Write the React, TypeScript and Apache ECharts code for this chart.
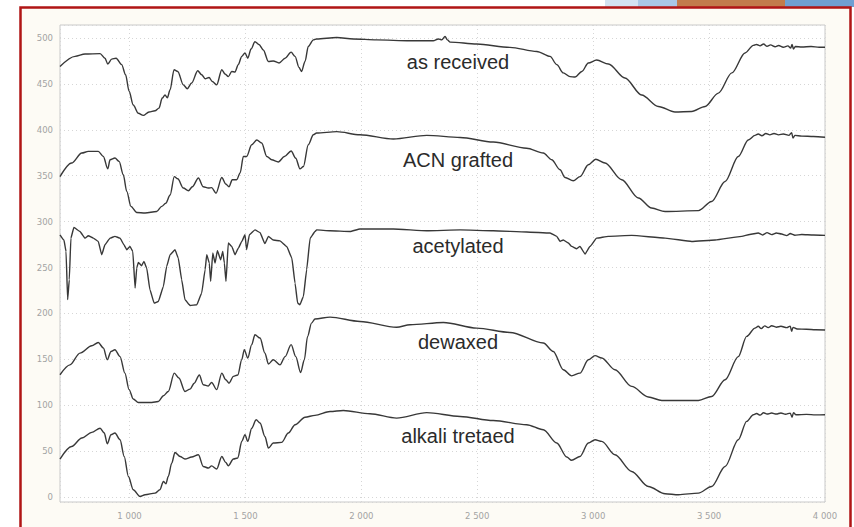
import React, { useEffect, useRef } from "react";
import * as echarts from "echarts";

// FTIR spectra: [wavenumber, value]
const asReceived: [number, number][] = [
  [700, 469], [765, 480], [808, 482.6], [873, 483], [894, 478], [906, 471.7], [923, 477], [942, 478],
  [966, 471], [983, 460], [998, 442], [1016, 427], [1038, 418], [1059, 415.7], [1084, 419.4], [1110, 420.8],
  [1127, 423.7], [1141, 434.6], [1153, 438], [1163, 435], [1175, 443.7], [1192, 465.5], [1208, 463.6],
  [1232, 449], [1249, 444.8], [1268, 451], [1294, 464.4], [1311, 460], [1326, 455.7], [1343, 457],
  [1357, 452.7], [1376, 449], [1398, 465.5], [1412, 460.8], [1426, 458], [1441, 463.6], [1455, 463],
  [1469, 471], [1484, 480], [1498, 483.7], [1510, 478], [1524, 488], [1541, 496], [1558, 493], [1577, 487],
  [1599, 474.5], [1620, 475], [1645, 472.8], [1671, 478], [1697, 484.6], [1714, 480], [1731, 468],
  [1742, 463.6], [1757, 474.5], [1771, 490.8], [1793, 498], [1807, 499], [1894, 500.6], [1965, 499],
  [2066, 498], [2210, 497], [2310, 497], [2332, 499], [2347, 498], [2361, 501.7], [2371, 498], [2383, 495.6],
  [2498, 493.5], [2641, 489.8], [2757, 485.4], [2814, 480], [2843, 471], [2871, 462], [2900, 458],
  [2922, 457.5], [2951, 463.6], [2979, 472.8], [3015, 476], [3066, 471.7], [3137, 456.4], [3209, 438],
  [3281, 425.5], [3353, 419.4], [3425, 420], [3483, 425.5], [3540, 440], [3598, 462], [3655, 483.7],
  [3691, 492], [3705, 493], [3720, 491.5], [3735, 493.5], [3750, 491], [3765, 492.5], [3785, 490.5],
  [3800, 491.8], [3820, 490], [3840, 491.5], [3852, 489], [3858, 493], [3864, 488], [3872, 490.8],
  [3900, 490.2], [3940, 490.8], [3975, 490], [4000, 490],
];

const acnGrafted: [number, number][] = [
  [700, 349], [750, 363.8], [794, 374.7], [822, 376.5], [865, 376.5], [887, 371], [906, 357.6], [916, 367.4],
  [937, 369.3], [955, 365.6], [973, 351], [988, 333], [1006, 316.6], [1031, 310], [1067, 309.4], [1117, 311],
  [1139, 316.6], [1156, 320], [1175, 329], [1193, 349], [1208, 346.7], [1232, 336.6], [1254, 333.7],
  [1271, 338], [1297, 347.5], [1318, 338], [1340, 336.6], [1354, 337], [1373, 331], [1398, 348], [1415, 341],
  [1429, 338], [1443, 345.6], [1462, 345.6], [1477, 353], [1491, 371], [1505, 371], [1527, 383.8],
  [1549, 389], [1570, 385.6], [1592, 371], [1613, 367.4], [1642, 365], [1668, 371], [1697, 377], [1717, 369],
  [1735, 357.6], [1750, 360], [1771, 383.8], [1793, 394.7], [1807, 396.5], [1894, 398], [1994, 394.7],
  [2138, 390], [2282, 394], [2426, 391.7], [2569, 386.7], [2713, 380], [2785, 374.7], [2821, 367.4],
  [2857, 356.5], [2879, 348], [2914, 344.5], [2943, 349], [2979, 362], [3011, 368], [3051, 363.8],
  [3123, 345.6], [3195, 325.7], [3252, 314.8], [3310, 311], [3454, 312], [3511, 322], [3569, 343.8],
  [3626, 371], [3669, 389], [3698, 394], [3712, 395.5], [3728, 393.5], [3745, 396], [3762, 394.5],
  [3780, 396], [3800, 394.5], [3820, 395.5], [3845, 394], [3856, 397], [3862, 391], [3870, 394],
  [3900, 393.2], [3950, 392.8], [4000, 392],
];

const acetylated: [number, number][] = [
  [700, 285.7], [717, 280], [726, 267.5], [733, 215], [740, 236.7], [747, 282], [760, 293.7], [786, 289.3],
  [808, 282], [822, 284.6], [844, 282], [865, 278.4], [880, 264], [894, 274.8], [916, 282], [937, 284],
  [959, 282], [976, 274.8], [988, 269.4], [1002, 273], [1014, 267.5], [1024, 227.7], [1031, 249.5],
  [1038, 255.6], [1052, 252], [1062, 256.7], [1074, 249.5], [1088, 225.8], [1106, 211.3], [1124, 213],
  [1146, 229.4], [1160, 251.2], [1175, 264], [1196, 269.4], [1210, 260.4], [1225, 236.7], [1239, 215],
  [1261, 208.7], [1290, 209.5], [1311, 222], [1326, 247.6], [1333, 264], [1344, 255], [1350, 235],
  [1359, 265.8], [1369, 255], [1379, 268.3], [1393, 258.5], [1402, 267.5], [1409, 255], [1416, 235],
  [1426, 276.7], [1441, 273], [1455, 264], [1469, 271], [1484, 278.4], [1498, 285.7], [1505, 269.4],
  [1517, 285.7], [1541, 291], [1563, 288], [1584, 276], [1599, 284], [1620, 280], [1649, 279], [1678, 273],
  [1700, 260.4], [1714, 233], [1725, 211.3], [1735, 209.5], [1750, 218.5], [1764, 247.6], [1779, 282],
  [1800, 289.3], [1807, 291], [1865, 290], [1951, 289.3], [1994, 292], [2138, 292], [2282, 290], [2426, 291],
  [2569, 290], [2713, 288.7], [2814, 287.6], [2843, 284], [2857, 278.4], [2871, 280], [2893, 276.7],
  [2907, 273], [2929, 270.5], [2943, 273], [2965, 264.7], [2986, 273], [3015, 282], [3065, 284], [3166, 285],
  [3310, 282], [3425, 278.4], [3526, 280], [3641, 284], [3675, 286], [3712, 287.6], [3730, 285.5],
  [3750, 288], [3770, 285.8], [3790, 287.6], [3813, 286.5], [3835, 284.8], [3850, 287], [3870, 285.2],
  [3900, 286], [3950, 285.4], [4000, 285],
];

const dewaxed: [number, number][] = [
  [700, 133.2], [743, 144], [786, 156.8], [837, 164.8], [865, 168.4], [887, 162.3], [904, 149.6], [920, 158.6],
  [937, 160.5], [959, 153], [980, 135], [998, 117], [1016, 106.8], [1038, 103], [1096, 103], [1124, 104],
  [1146, 110.3], [1167, 115], [1193, 135], [1213, 129.6], [1239, 115], [1261, 117.6], [1279, 124],
  [1301, 133], [1318, 122.3], [1340, 121], [1354, 124.8], [1376, 117], [1398, 135], [1415, 127.8],
  [1429, 124], [1448, 131.4], [1467, 133], [1484, 149.6], [1495, 160.5], [1510, 151.4], [1527, 166],
  [1541, 176.8], [1563, 173.2], [1584, 156.8], [1599, 145], [1620, 149.6], [1649, 144], [1671, 153],
  [1697, 166], [1717, 153], [1738, 135.7], [1754, 149.6], [1768, 175], [1785, 189.5], [1800, 194],
  [1865, 196], [1994, 191.3], [2152, 185], [2210, 187.7], [2354, 190.2], [2498, 184], [2641, 179.3],
  [2785, 167.8], [2828, 158.6], [2871, 138.7], [2907, 132], [2943, 135], [2979, 149.6], [3008, 154],
  [3037, 151.4], [3094, 138.7], [3166, 120.5], [3238, 109], [3296, 105.2], [3454, 105.2], [3511, 109.6],
  [3569, 127.8], [3626, 153], [3662, 175], [3698, 184], [3712, 186], [3725, 183.5], [3740, 186.5],
  [3755, 184.5], [3770, 186.6], [3790, 185], [3810, 186], [3835, 184.5], [3850, 186.2], [3856, 180.5],
  [3862, 184.8], [3880, 183], [3920, 182.8], [3960, 182.2], [4000, 182],
];

const alkaliTreated: [number, number][] = [
  [700, 41.4], [750, 55], [794, 64.3], [837, 70.4], [873, 75], [891, 69.7], [904, 58], [920, 67.9],
  [937, 69.7], [959, 62.4], [977, 44.2], [995, 22.4], [1016, 8], [1045, 0.7], [1067, 2.5], [1110, 4.3],
  [1131, 8], [1146, 17], [1157, 14.5], [1167, 22.4], [1182, 37], [1196, 48.6], [1218, 44.2], [1239, 41.4],
  [1268, 43.6], [1297, 46], [1318, 33.3], [1340, 31.6], [1354, 34], [1376, 30.5], [1398, 44.2],
  [1415, 37.7], [1426, 34], [1448, 41.4], [1467, 42.5], [1484, 60.6], [1498, 67.9], [1510, 60.6],
  [1527, 75], [1546, 84.2], [1563, 80.6], [1584, 66], [1599, 53.4], [1620, 58.8], [1656, 59.5],
  [1685, 69.7], [1714, 78.8], [1757, 87], [1800, 89], [1865, 93.2], [1922, 94.3], [2037, 90.7], [2152, 86],
  [2282, 92], [2426, 87.8], [2569, 83.4], [2713, 78.8], [2785, 73.3], [2843, 58.8], [2886, 43.6],
  [2907, 40], [2943, 44.2], [2979, 58.8], [3008, 62.4], [3037, 60.6], [3094, 46], [3166, 27.9],
  [3238, 11.5], [3310, 3.6], [3368, 2.5], [3454, 4.3], [3511, 11.5], [3569, 33.3], [3626, 62.4],
  [3662, 82.4], [3691, 89.6], [3705, 91], [3720, 89.2], [3735, 91.8], [3750, 90.4], [3770, 91.5],
  [3790, 90.4], [3810, 91.6], [3830, 90.2], [3850, 91.4], [3858, 87], [3864, 92], [3875, 89.6],
  [3920, 90], [3960, 89.5], [4000, 89.6],
];

const seriesData = [asReceived, acnGrafted, acetylated, dewaxed, alkaliTreated];
const curveNames = ["as received", "ACN grafted", "acetylated", "dewaxed", "alkali tretaed"];

const W = 854;
const H = 527;
const labelBaselines = [72, 170, 256, 352, 446];
const smoothness = [0.3, 0.3, 0.12, 0.3, 0.3];

const fmtX = (v: number) => {
  const s = String(Math.round(v));
  return s.length > 3 ? s.slice(0, s.length - 3) + " " + s.slice(-3) : s;
};

export default function App() {
  const ref = useRef<HTMLDivElement>(null);
  useEffect(() => {
    if (!ref.current) return;
    const chart = echarts.init(ref.current, undefined, { renderer: "svg", width: W, height: H });
    const option: any = {
      animation: false,
      backgroundColor: "#ffffff",
      grid: {
        left: 60,
        right: 29,
        top: 25,
        bottom: 25,
        show: true,
        backgroundColor: "#ffffff",
        borderColor: "#c9c9c9",
        borderWidth: 1,
      },
      xAxis: {
        type: "value",
        min: 700,
        max: 4000,
        minInterval: 500,
        maxInterval: 500,
        axisLine: { show: false },
        axisTick: { show: false },
        axisLabel: {
          showMinLabel: false,
          color: "#a3a3a3",
          fontSize: 8.5,
          fontFamily: "DejaVu Sans",
          margin: 9,
          formatter: fmtX,
        },
        splitLine: { show: true, lineStyle: { color: "#d6d6d6", type: [1, 3], width: 1 } },
      },
      yAxis: {
        type: "value",
        min: -5.4,
        max: 514.2,
        minInterval: 50,
        maxInterval: 50,
        axisLine: { show: false },
        axisTick: { show: false },
        axisLabel: {
          showMinLabel: false,
          showMaxLabel: false,
          color: "#a3a3a3",
          fontSize: 8.5,
          fontFamily: "DejaVu Sans",
          margin: 7,
        },
        splitLine: { show: true, lineStyle: { color: "#d6d6d6", type: [1, 3], width: 1 } },
      },
      series: seriesData.map((d, i) => ({
        name: curveNames[i],
        type: "line",
        data: d,
        showSymbol: false,
        symbol: "none",
        smooth: smoothness[i],
        smoothMonotone: "x",
        clip: false,
        lineStyle: { color: "#383838", width: 1.4 },
      })),
      graphic: [
        { type: "rect", z: -10, shape: { x: 20, y: 7, width: 831, height: 525 }, style: { fill: "#fdfbf5" } },
        { type: "rect", z: -10, shape: { x: 605, y: 0, width: 33, height: 7 }, style: { fill: "#d3e2f1" } },
        { type: "rect", z: -10, shape: { x: 638, y: 0, width: 39, height: 7 }, style: { fill: "#a9c7e6" } },
        { type: "rect", z: -10, shape: { x: 677, y: 0, width: 108, height: 7 }, style: { fill: "#c27b4c" } },
        { type: "rect", z: -10, shape: { x: 785, y: 0, width: 69, height: 7 }, style: { fill: "#6f9fd2" } },
        {
          type: "rect",
          z: 20,
          shape: { x: 20.5, y: 7.5, width: 830, height: 530 },
          style: { fill: "none", stroke: "#b01515", lineWidth: 2.5 },
        },
        ...curveNames.map((t, i) => ({
          type: "text",
          z: 20,
          x: 458,
          y: labelBaselines[i],
          style: {
            text: t,
            fill: "#2b2b2b",
            font: '20px "Liberation Sans", Arial, sans-serif',
            textAlign: "center",
            textVerticalAlign: "bottom",
          },
        })),
      ],
    };
    chart.setOption(option);
    return () => chart.dispose();
  }, []);
  return (
    <div
      ref={ref}
      style={{ position: "absolute", left: 0, top: 0, width: W, height: H, background: "#fff" }}
    />
  );
}
